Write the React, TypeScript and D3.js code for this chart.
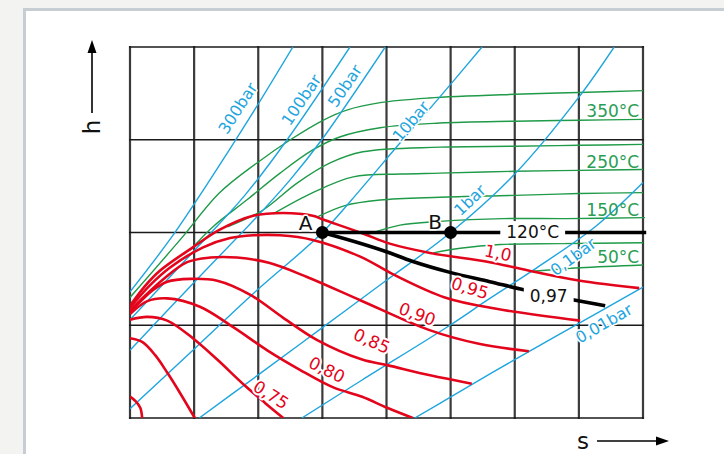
import * as d3 from "d3";
import { useEffect, useRef } from "react";

type Pt = [number, number];

const W = 724;
const H = 454;

// grid positions (entropy s, enthalpy h), in grid units
const sGrid = [0, 1, 2, 3, 4, 5, 6, 7, 8];
const hGrid = [0, 1, 2, 3, 4];

// lines of constant steam quality (red)
const x100: Pt[] = [[0, 1.21], [0.23, 1.42], [0.47, 1.59], [0.98, 1.84], [1.40, 2.03], [1.92, 2.18], [2.39, 2.21], [2.85, 2.18], [3.01, 2.14], [3.63, 1.99], [4.05, 1.88], [4.68, 1.78], [5.61, 1.68], [6.28, 1.58], [7.02, 1.48], [7.94, 1.40]];
const x095: Pt[] = [[0, 1.19], [0.31, 1.43], [0.62, 1.62], [1.14, 1.84], [1.56, 1.94], [1.92, 1.97], [2.34, 1.97], [2.85, 1.92], [3.59, 1.74], [4.13, 1.54], [4.91, 1.30], [5.69, 1.18], [7.02, 1.05]];
const x090: Pt[] = [[0, 1.16], [0.51, 1.49], [0.89, 1.68], [1.25, 1.73], [1.67, 1.73], [2.18, 1.67], [2.76, 1.52], [3.59, 1.27], [4.66, 0.95], [5.44, 0.80], [6.22, 0.72]];
const x085: Pt[] = [[0, 1.14], [0.36, 1.38], [0.58, 1.47], [0.94, 1.50], [1.36, 1.48], [1.87, 1.33], [2.39, 1.08], [2.92, 0.84], [3.62, 0.63], [4.01, 0.57], [4.68, 0.46], [5.33, 0.37]];
const x080: Pt[] = [[0, 1.12], [0.27, 1.26], [0.58, 1.29], [1.09, 1.20], [1.61, 0.98], [2.14, 0.73], [2.65, 0.52], [3.17, 0.33], [3.62, 0.23], [4.01, 0.11], [4.41, 0]];
const x075: Pt[] = [[0, 1.06], [0.27, 1.09], [0.58, 1.05], [0.98, 0.86], [1.36, 0.63], [1.79, 0.35], [2.11, 0.16], [2.39, 0]];
const x070: Pt[] = [[0, 0.86], [0.19, 0.82], [0.39, 0.68], [0.58, 0.49], [0.78, 0.27], [1.01, 0]];
const x065: Pt[] = [[0, 0.23], [0.09, 0.18], [0.16, 0.11], [0.19, 0]];
const qualityLines = [x100, x095, x090, x085, x080, x075, x070, x065];

// isotherms (green)
const t400: Pt[] = [[0, 1.30], [0.78, 1.92], [1.40, 2.43], [1.98, 2.75], [2.50, 3.00], [3.01, 3.21], [3.38, 3.32], [3.90, 3.40], [4.66, 3.45], [6.00, 3.49], [7.00, 3.51], [8.00, 3.53]];
const t350: Pt[] = [[0.94, 1.81], [1.29, 2.06], [1.82, 2.35], [2.34, 2.64], [2.85, 2.89], [3.27, 3.03], [3.90, 3.13], [4.83, 3.18], [6.00, 3.20], [7.00, 3.21], [8.00, 3.22]];
const t300: Pt[] = [[1.52, 2.06], [2.07, 2.24], [2.60, 2.53], [3.12, 2.75], [3.63, 2.87], [4.83, 2.92], [6.00, 2.93], [7.00, 2.94], [8.00, 2.95]];
const t250: Pt[] = [[2.23, 2.20], [2.85, 2.43], [3.48, 2.60], [4.21, 2.63], [4.83, 2.64], [6.00, 2.66], [7.00, 2.67], [8.00, 2.68]];
const t200: Pt[] = [[2.93, 2.17], [3.35, 2.29], [3.90, 2.35], [4.83, 2.38], [6.00, 2.40], [7.00, 2.42], [8.00, 2.43]];
const t150: Pt[] = [[3.71, 1.98], [4.21, 2.08], [4.83, 2.12], [5.82, 2.15], [6.81, 2.15], [8.03, 2.16]];
const t100: Pt[] = [[4.73, 1.78], [5.15, 1.83], [5.77, 1.87], [6.70, 1.88], [8.00, 1.89]];
const t050: Pt[] = [[6.24, 1.58], [7.02, 1.62], [8.00, 1.65]];
const isotherms = [t400, t350, t300, t250, t200, t150, t100, t050];

// isobars (blue)
const p300: Pt[] = [[0, 1.36], [0.66, 1.96], [1.25, 2.57], [1.87, 3.24], [2.54, 4.00]];
const p100: Pt[] = [[0, 1.06], [1.09, 1.87], [1.79, 2.40], [2.45, 3.00], [3.43, 4.00]];
const p50: Pt[] = [[0, 0.73], [1.01, 1.47], [1.98, 2.17], [2.50, 2.57], [2.99, 3.00], [3.98, 4.00]];
const p10: Pt[] = [[0, 0.10], [1.01, 0.75], [1.92, 1.34], [3.00, 2.00], [3.59, 2.46], [4.18, 2.94], [4.83, 3.46], [5.49, 4.00]];
const p1: Pt[] = [[1.08, 0], [2.01, 0.47], [3.01, 0.98], [4.01, 1.49], [5.00, 2.00], [6.00, 2.63], [7.00, 3.46], [7.55, 4.00]];
const p01: Pt[] = [[2.68, 0], [3.62, 0.41], [4.99, 1.00], [5.57, 1.27], [6.30, 1.60], [7.25, 2.06], [8.00, 2.54]];
const p001: Pt[] = [[4.44, 0], [5.01, 0.23], [6.00, 0.63], [7.00, 1.02], [8.00, 1.41]];
const isobars = [p300, p100, p50, p10, p1, p01, p001];

// process: A -> B throttling at constant h, A -> expansion ending at x = 0,97
const pointA: Pt = [3, 2];
const pointB: Pt = [5, 2];
const throttle: Pt[] = [pointA, [8.05, 2]];
const expansion: Pt[] = [[3, 2], [3.51, 1.90], [4.01, 1.79], [4.40, 1.69], [4.99, 1.57], [5.61, 1.47], [6.16, 1.38], [6.86, 1.28], [7.41, 1.21]];

// labels: text, s, h, rotation
const pressureLabels: [string, number, number, number][] = [
  ["300bar", 1.68, 3.34, -57], ["100bar", 2.67, 3.43, -56], ["50bar", 3.35, 3.58, -56],
  ["10bar", 4.38, 3.20, -50], ["1bar", 5.30, 2.35, -44], ["0,1bar", 6.91, 1.74, -36], ["0,01bar", 7.39, 1.02, -30],
];
const qualityLabels: [string, number, number, number][] = [
  ["1,0", 5.74, 1.78, 12], ["0,95", 5.30, 1.40, 17], ["0,90", 4.48, 1.12, 20],
  ["0,85", 3.77, 0.83, 24], ["0,80", 3.07, 0.52, 26], ["0,75", 2.20, 0.25, 32],
];
const tempLabels: [string, number, number][] = [
  ["350°C", 7.94, 3.24], ["250°C", 7.94, 2.70], ["150°C", 7.94, 2.18], ["50°C", 7.94, 1.67],
];
const boxedLabels: [string, number, number][] = [["120°C", 6.28, 1.94], ["0,97", 6.53, 1.25]];
const pointLabels: [string, number, number][] = [["A", 2.74, 2.03], ["B", 4.76, 2.04]];

const RED = "#e3051b";
const BLUE = "#1ea5de";
const GREEN = "#1f9a48";
const FONT = "'DejaVu Sans', sans-serif";

export default function App() {
  const svgRef = useRef<SVGSVGElement>(null);

  useEffect(() => {
    document.body.style.margin = "0";
    const svg = d3.select(svgRef.current);
    svg.selectAll("*").remove();

    const x = d3.scaleLinear().domain([0, 8]).range([130, 643]);
    const y = d3.scaleLinear().domain([0, 4]).range([418, 47]);
    const line = d3.line<Pt>()
      .x(d => x(d[0]))
      .y(d => y(d[1]))
      .curve(d3.curveCatmullRom.alpha(0.5));

    // page + panel
    svg.append("rect").attr("width", W).attr("height", H).attr("fill", "#f3f3f1");
    svg.append("rect")
      .attr("x", 24.5).attr("y", 9.5).attr("width", W).attr("height", H)
      .attr("fill", "#fff").attr("stroke", "#c6ced4").attr("stroke-width", 3);

    svg.append("clipPath").attr("id", "plot").append("rect")
      .attr("x", x(0)).attr("y", y(4)).attr("width", x(8) - x(0) + 4).attr("height", y(0) - y(4));

    // grid
    const grid = svg.append("g");
    grid.selectAll("line.v").data(sGrid).join("line").attr("class", "v")
      .attr("x1", d => x(d)).attr("x2", d => x(d))
      .attr("y1", y(0) + 1).attr("y2", y(4) - 1)
      .attr("stroke", "#3a3a3a").attr("stroke-width", 2.2);
    grid.selectAll("line.h").data(hGrid).join("line").attr("class", "h")
      .attr("x1", x(0) - 1).attr("x2", x(8) + 1)
      .attr("y1", d => y(d)).attr("y2", d => y(d))
      .attr("stroke", "#1a1a1a").attr("stroke-width", 1.7);

    const curves = svg.append("g").attr("clip-path", "url(#plot)").attr("fill", "none");
    curves.selectAll("path.iso-t").data(isotherms).join("path").attr("class", "iso-t")
      .attr("d", d => line(d)).attr("stroke", GREEN).attr("stroke-width", 1.4);
    curves.selectAll("path.iso-p").data(isobars).join("path").attr("class", "iso-p")
      .attr("d", d => line(d)).attr("stroke", BLUE).attr("stroke-width", 1.4);
    curves.selectAll("path.qual").data(qualityLines).join("path").attr("class", "qual")
      .attr("d", d => line(d)).attr("stroke", RED).attr("stroke-width", 2.6);

    const process = svg.append("g").attr("fill", "none").attr("stroke", "#000").attr("stroke-width", 3.6);
    process.append("path").attr("d", line(throttle));
    process.append("path").attr("d", line(expansion));

    const halo = (sel: any, w: number) => sel
      .attr("stroke", "#fff").attr("stroke-width", w)
      .attr("stroke-linejoin", "round").attr("paint-order", "stroke");

    // boxed labels on black lines
    boxedLabels.forEach(d => {
      const gg = svg.append("g");
      const t = gg.append("text")
        .attr("x", x(d[1])).attr("y", y(d[2]))
        .attr("text-anchor", "middle")
        .style("font-family", FONT).style("font-size", "17px")
        .attr("fill", "#111").text(d[0]);
      const bb = (t.node() as SVGTextElement).getBBox();
      gg.insert("rect", "text")
        .attr("x", bb.x - 6).attr("y", bb.y - 1).attr("width", bb.width + 12).attr("height", bb.height + 2)
        .attr("fill", "#fff");
    });

    // points A, B
    svg.selectAll("circle.pt").data([pointA, pointB]).join("circle").attr("class", "pt")
      .attr("cx", d => x(d[0])).attr("cy", d => y(d[1])).attr("r", 6.5).attr("fill", "#000");

    svg.append("g").selectAll("text").data(pointLabels).join("text")
      .attr("x", d => x(d[1])).attr("y", d => y(d[2]))
      .attr("text-anchor", "middle")
      .style("font-family", FONT).style("font-size", "20px")
      .attr("fill", "#111").text(d => d[0])
      .call(halo, 3);

    // isobar labels
    svg.append("g").selectAll("text").data(pressureLabels).join("text")
      .attr("transform", d => `translate(${x(d[1])},${y(d[2])}) rotate(${d[3]})`)
      .attr("text-anchor", "middle").attr("dy", "0.35em")
      .style("font-family", FONT).style("font-size", "16px")
      .attr("fill", BLUE).text(d => d[0])
      .call(halo, 3);

    // quality labels
    svg.append("g").selectAll("text").data(qualityLabels).join("text")
      .attr("transform", d => `translate(${x(d[1])},${y(d[2])}) rotate(${d[3]})`)
      .attr("text-anchor", "middle").attr("dy", "0.35em")
      .style("font-family", FONT).style("font-size", "17px")
      .attr("fill", RED).text(d => d[0])
      .call(halo, 4);

    // isotherm labels
    svg.append("g").selectAll("text").data(tempLabels).join("text")
      .attr("x", d => x(d[1])).attr("y", d => y(d[2]))
      .attr("text-anchor", "end")
      .style("font-family", FONT).style("font-size", "17px")
      .attr("fill", "#2a9d55").text(d => d[0]);

    // axis arrows
    const ax = svg.append("g").attr("fill", "#000").attr("stroke", "#000");
    ax.append("line").attr("x1", 92).attr("x2", 92).attr("y1", 113).attr("y2", 50).attr("stroke-width", 1.6);
    ax.append("path").attr("d", "M92,40 L87.5,53 L96.5,53 Z").attr("stroke", "none");
    ax.append("line").attr("x1", 597).attr("x2", 660).attr("y1", 441).attr("y2", 441).attr("stroke-width", 1.6);
    ax.append("path").attr("d", "M669,441 L656,436.5 L656,445.5 Z").attr("stroke", "none");

    svg.append("text")
      .attr("transform", "translate(100,127) rotate(-90)")
      .attr("text-anchor", "middle")
      .style("font-family", FONT).style("font-size", "23px")
      .attr("fill", "#111").text("h");
    svg.append("text")
      .attr("x", 583).attr("y", 449)
      .attr("text-anchor", "middle")
      .style("font-family", FONT).style("font-size", "23px")
      .attr("fill", "#111").text("s");
  }, []);

  return (
    <div style={{ width: W, height: H }}>
      <svg ref={svgRef} width={W} height={H} style={{ display: "block" }}></svg>
    </div>
  );
}
